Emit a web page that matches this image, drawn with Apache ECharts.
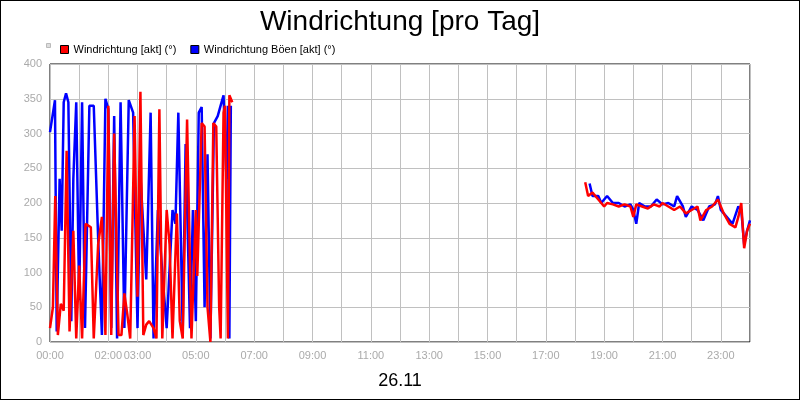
<!DOCTYPE html>
<html><head><meta charset="utf-8">
<script src="https://cdn.jsdelivr.net/npm/echarts@6/dist/echarts.min.js"></script>
<style>html,body{margin:0;padding:0;background:#fff}#c{width:798px;height:398px;border:1px solid #000}</style>
</head><body><div id="c"></div>
<script>
const title = "Windrichtung [pro Tag]";
const dateLabel = "26.11";
const shownHours = [0,2,3,5,7,9,11,13,15,17,19,21,23];
const redName = "Windrichtung [akt] (°)";
const blueName = "Windrichtung Böen [akt] (°)";
const blue = [[0,302],[0.17,348],[0.23,15],[0.33,235],[0.4,160],[0.47,345],[0.55,358],[0.63,345],[0.73,30],[0.8,235],[0.9,345],[1.0,60],[1.1,345],[1.2,20],[1.35,340],[1.5,340],[1.65,150],[1.78,10],[1.9,350],[2.0,335],[2.1,20],[2.2,325],[2.3,5],[2.42,345],[2.55,20],[2.7,348],[2.85,330],[3.0,20],[3.1,240],[3.3,90],[3.45,330],[3.55,5],[3.7,190],[3.85,100],[4.0,20],[4.2,190],[4.3,170],[4.4,330],[4.55,15],[4.65,285],[4.8,20],[4.9,190],[5.0,30],[5.1,330],[5.2,338],[5.3,50],[5.4,270],[5.5,5],[5.62,315],[5.75,325],[5.85,340],[5.95,355],[6.05,235],[6.1,340],[6.15,5],[6.2,340],[null,null],
[18.5,228],[18.6,210],[18.8,210],[18.9,200],[19.0,205],[19.1,210],[19.3,200],[19.5,200],[19.7,195],[19.9,198],[20.0,190],[20.1,170],[20.2,200],[20.4,195],[20.6,195],[20.8,205],[21.0,198],[21.2,200],[21.4,195],[21.5,210],[21.7,195],[21.8,180],[22.0,195],[22.2,190],[22.4,175],[22.6,195],[22.8,198],[22.9,210],[23.0,190],[23.2,180],[23.4,170],[23.6,195],[23.7,190],[23.8,140],[23.9,160],[24,175]];
const red = [[0,20],[0.1,50],[0.18,210],[0.27,10],[0.37,55],[0.47,45],[0.57,275],[0.67,15],[0.8,160],[0.9,5],[1.0,110],[1.1,5],[1.22,170],[1.4,165],[1.5,5],[1.65,140],[1.78,180],[1.9,10],[2.0,340],[2.1,10],[2.2,300],[2.35,10],[2.45,10],[2.55,70],[2.65,40],[2.75,5],[2.9,325],[3.0,65],[3.1,360],[3.2,10],[3.3,25],[3.4,30],[3.55,20],[3.65,5],[3.75,335],[3.85,5],[4.0,190],[4.1,140],[4.2,5],[4.35,185],[4.45,30],[4.55,5],[4.7,320],[4.85,5],[5.0,190],[5.05,95],[5.2,315],[5.3,310],[5.4,50],[5.5,0],[5.6,315],[5.7,310],[5.8,50],[5.85,5],[5.95,330],[6.0,340],[6.1,5],[6.15,355],[6.25,345],[null,null],
[18.35,230],[18.45,210],[18.6,215],[18.8,205],[19.0,195],[19.1,200],[19.3,198],[19.5,195],[19.7,198],[19.9,195],[20.0,180],[20.1,198],[20.3,195],[20.5,192],[20.7,198],[20.9,195],[21.0,200],[21.2,195],[21.4,190],[21.6,195],[21.8,185],[22.0,190],[22.2,195],[22.3,175],[22.5,190],[22.7,195],[22.9,205],[23.0,195],[23.1,185],[23.3,170],[23.5,165],[23.6,180],[23.7,200],[23.8,135],[23.9,160],[24,170]];
const chart = echarts.init(document.getElementById('c'));
const pad = h => (h<10?'0':'')+h+':00';
chart.setOption({
  animation:false,
  textStyle:{fontFamily:'Liberation Sans, Arial'},
  title:[{text:title,left:'center',top:2,textStyle:{fontSize:28,fontWeight:'normal',color:'#000'}},
         {text:dateLabel,left:'center',top:366,textStyle:{fontSize:18,fontWeight:'normal',color:'#000'}}],
  graphic:[{type:'rect',left:45,top:42,shape:{width:4,height:4},style:{fill:'#ddd',stroke:'#bbb'}}],
  legend:{left:54,top:38,itemWidth:8,itemHeight:8,icon:'rect',itemGap:14,textStyle:{fontSize:11,color:'#000'},
    data:[{name:redName,itemStyle:{color:'#ff0000',borderColor:'#000',borderWidth:1}},{name:blueName,itemStyle:{color:'#0000ff',borderColor:'#000',borderWidth:1}}]},
  grid:{left:49,right:49,top:63,bottom:57,show:true,borderColor:'#000',borderWidth:1},
  xAxis:{type:'value',min:0,max:24,interval:1,
    axisLine:{show:false},axisTick:{show:false},
    splitLine:{show:true,lineStyle:{color:'#c0c0c0'}},
    axisLabel:{color:'#aaa',fontSize:11,formatter:v=>shownHours.includes(v)?pad(v):''}},
  yAxis:{type:'value',min:0,max:400,interval:50,
    axisLine:{show:false},axisTick:{show:false},
    splitLine:{show:true,lineStyle:{color:'#c0c0c0'}},
    axisLabel:{color:'#aaa',fontSize:11}},
  series:[
    {name:blueName,type:'line',data:blue,showSymbol:false,connectNulls:false,lineStyle:{color:'#0000ff',width:2.5},itemStyle:{color:'#0000ff'}},
    {name:redName,type:'line',data:red,showSymbol:false,connectNulls:false,lineStyle:{color:'#ff0000',width:2.5},itemStyle:{color:'#ff0000'}}
  ]
});
</script></body></html>
